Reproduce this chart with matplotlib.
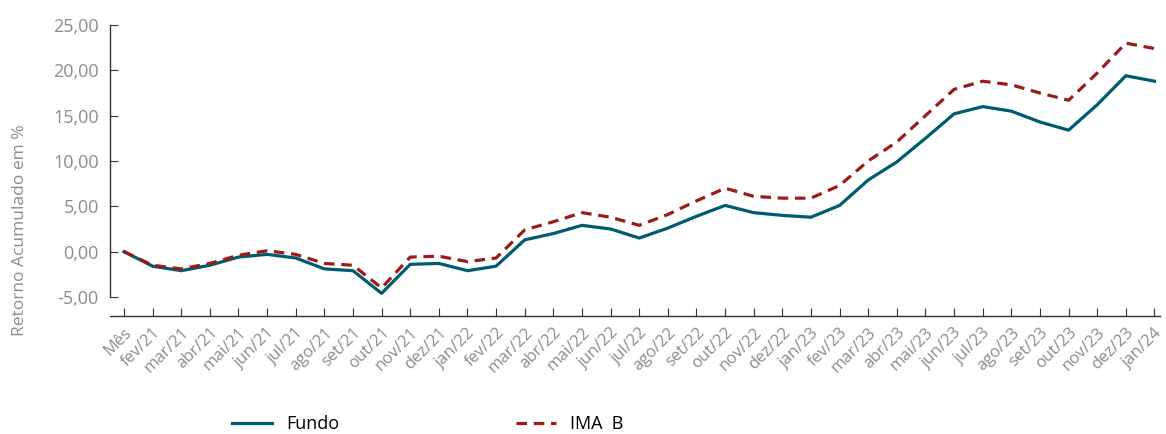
import matplotlib
matplotlib.use("Agg")
import matplotlib.pyplot as plt
from matplotlib.ticker import FuncFormatter

# data
meses = ["Mês", "fev/21", "mar/21", "abr/21", "mai/21", "jun/21", "jul/21", "ago/21",
         "set/21", "out/21", "nov/21", "dez/21", "jan/22", "fev/22", "mar/22", "abr/22",
         "mai/22", "jun/22", "jul/22", "ago/22", "set/22", "out/22", "nov/22", "dez/22",
         "jan/23", "fev/23", "mar/23", "abr/23", "mai/23", "jun/23", "jul/23", "ago/23",
         "set/23", "out/23", "nov/23", "dez/23", "jan/24"]

fundo = [0.0, -1.6, -2.1, -1.5, -0.6, -0.3, -0.7, -1.9, -2.1, -4.6,
         -1.4, -1.3, -2.1, -1.6, 1.3, 2.0, 2.9, 2.5, 1.5, 2.6,
         3.9, 5.1, 4.3, 4.0, 3.8, 5.1, 7.9, 9.9, 12.5, 15.2,
         16.0, 15.5, 14.3, 13.4, 16.2, 19.4, 18.8]

ima_b = [0.0, -1.5, -1.9, -1.3, -0.4, 0.1, -0.3, -1.3, -1.5, -4.0,
         -0.6, -0.5, -1.1, -0.7, 2.4, 3.3, 4.3, 3.8, 2.9, 4.1,
         5.6, 7.0, 6.1, 5.9, 5.9, 7.3, 10.0, 12.1, 15.0, 17.9,
         18.8, 18.4, 17.5, 16.7, 19.7, 23.0, 22.4]

y_ticks = [-5, 0, 5, 10, 15, 20, 25]

cinza = "#8c8c8c"
azul = "#005a70"
vermelho = "#9b1b1b"

plt.rcParams["font.family"] = ["Open Sans", "DejaVu Sans"]

fig = plt.figure(figsize=(11.66, 4.34), dpi=100)
ax = fig.add_axes([0.0943, 0.3157, 0.9007, 0.6267])

x = list(range(len(meses)))
l1, = ax.plot(x, fundo, color=azul, lw=2.3, label="Fundo")
l2, = ax.plot(x, ima_b, color=vermelho, lw=2.3, dashes=(3.3, 2.1), label="IMA  B")

ax.set_ylim(-5, 25)
ax.set_xlim(-0.49, 36.2)
ax.set_yticks(y_ticks)
ax.yaxis.set_major_formatter(FuncFormatter(lambda v, p: f"{v:.2f}".replace(".", ",")))

for s in ["top", "right"]:
    ax.spines[s].set_visible(False)
ax.spines["bottom"].set_position(("outward", 14))
ax.spines["left"].set_color("#333333")
ax.spines["bottom"].set_color("#333333")
ax.spines["left"].set_linewidth(1.0)
ax.spines["bottom"].set_linewidth(1.0)

ax.tick_params(axis="y", direction="in", length=6, colors="#333333", labelcolor=cinza,
               labelsize=13, pad=8)
ax.tick_params(axis="x", direction="in", length=6, colors="#333333", labelcolor=cinza,
               labelsize=12, pad=6)

ax.set_xticks(x)
ax.set_xticklabels(meses)
for lbl in ax.get_xticklabels():
    lbl.set_rotation(45)
    lbl.set_ha("right")
    lbl.set_va("top")
    lbl.set_rotation_mode("anchor")

fig.text(0.017, 0.47, "Retorno Acumulado em %", rotation=90, color=cinza,
         fontsize=12.5, ha="center", va="center")

fig.legend(handles=[l1, l2], loc="center left", bbox_to_anchor=(0.185, 0.022),
           ncol=2, frameon=False, fontsize=13, handlelength=2.2,
           handletextpad=0.8, columnspacing=9.8)

fig.savefig("out.png", dpi=100)
